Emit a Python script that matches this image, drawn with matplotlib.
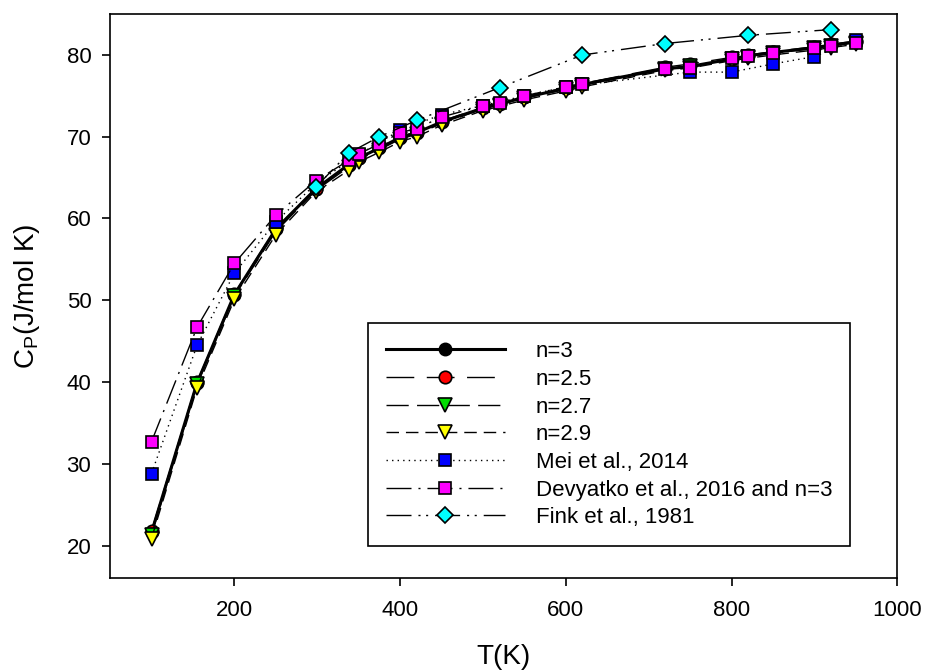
import matplotlib
matplotlib.use("Agg")
import matplotlib.pyplot as plt

plt.rcParams['font.family'] = ['Liberation Sans', 'DejaVu Sans']
plt.rcParams['mathtext.fontset'] = 'custom'
plt.rcParams['mathtext.rm'] = 'Liberation Sans'
plt.rcParams['mathtext.default'] = 'regular'

# temperatures (K)
t_model = [100, 155, 200, 250, 298, 338, 350, 375, 400, 420, 450, 500,
           520, 550, 600, 620, 720, 750, 800, 820, 850, 900, 920, 950]
t_mei = [100, 155, 200, 250, 300, 350, 400, 450, 500, 550, 600,
         750, 800, 850, 900, 950]
t_fink = [298, 338, 375, 420, 520, 620, 720, 820, 920]

# heat capacity (J/mol K)
cp_n3 = [21.6, 39.9, 50.7, 58.7, 63.6, 66.6, 67.4, 68.6, 69.9, 70.5, 71.8, 73.5,
         74.0, 74.8, 75.9, 76.4, 78.3, 78.6, 79.5, 79.9, 80.3, 80.9, 81.2, 81.6]
cp_n25 = [21.8, 40.0, 50.8, 58.8, 63.6, 66.6, 67.4, 68.7, 70.0, 70.6, 71.9, 73.6,
          74.1, 74.9, 76.0, 76.5, 78.5, 78.9, 79.7, 80.0, 80.4, 81.0, 81.3, 81.7]
cp_n27 = [21.3, 39.7, 50.5, 58.4, 63.4, 66.3, 67.2, 68.4, 69.7, 70.3, 71.6, 73.4,
          73.9, 74.7, 75.8, 76.3, 78.3, 78.6, 79.5, 79.8, 80.2, 80.8, 81.1, 81.5]
cp_n29 = [20.85, 39.3, 50.1, 58.0, 63.2, 65.9, 66.9, 68.1, 69.4, 70.0, 71.4, 73.2,
          73.7, 74.5, 75.6, 76.1, 78.1, 78.4, 79.3, 79.6, 80.0, 80.6, 80.9, 81.3]
cp_dev = [32.7, 46.7, 54.5, 60.4, 64.6, 67.1, 67.9, 69.1, 70.5, 71.0, 72.4, 73.8,
          74.1, 75.0, 76.1, 76.5, 78.3, 78.4, 79.6, 79.9, 80.2, 80.9, 81.1, 81.5]
cp_mei = [28.8, 44.5, 53.3, 59.6, 64.4, 67.8, 70.8, 72.7, 73.8, 75.0, 76.1,
          77.9, 77.9, 78.9, 79.8, 81.8]
cp_fink = [63.8, 68.0, 70.0, 72.0, 76.0, 80.0, 81.4, 82.4, 83.1]

fig = plt.figure(figsize=(9.25, 6.7), dpi=100)
ax = fig.add_axes([0.119, 0.137, 0.851, 0.842])

ax.plot(t_model, cp_n3, color='black', lw=2.2, ls='-', marker='o', ms=9,
        mfc='black', mec='black', label='n=3')
ax.plot(t_model, cp_n25, color='black', lw=1, dashes=(20, 9), marker='o', ms=9,
        mfc='red', mec='black', mew=1.2, label='n=2.5')
ax.plot(t_model, cp_n27, color='black', lw=1, dashes=(16, 6), marker='v', ms=10,
        mfc='#00dd00', mec='black', mew=1.2, label='n=2.7')
ax.plot(t_model, cp_n29, color='black', lw=1, dashes=(9, 5), marker='v', ms=10,
        mfc='yellow', mec='black', mew=1.2, label='n=2.9')
ax.plot(t_mei, cp_mei, color='black', lw=1, dashes=(1, 3), marker='s', ms=9,
        mfc='blue', mec='black', mew=1.2, label='Mei et al., 2014')
ax.plot(t_model, cp_dev, color='black', lw=1, dashes=(18, 5, 1.5, 5), marker='s', ms=9,
        mfc='magenta', mec='black', mew=1.2, label='Devyatko et al., 2016 and n=3')
ax.plot(t_fink, cp_fink, color='black', lw=1, dashes=(18, 5, 1.5, 4, 1.5, 5), marker='D',
        ms=8.5, mfc='cyan', mec='black', mew=1.2, label='Fink et al., 1981')

ax.set_xlim(50, 1000)
ax.set_ylim(16, 85)
ax.set_xticks([200, 400, 600, 800, 1000])
ax.set_yticks([20, 30, 40, 50, 60, 70, 80])
ax.tick_params(direction='out', length=5.5, width=1.2, labelsize=16, top=False, right=False)
ax.tick_params(axis='x', pad=10)
ax.tick_params(axis='y', pad=8)
for s in ax.spines.values():
    s.set_linewidth(1.2)

ax.set_xlabel('T(K)', fontsize=20, labelpad=17)
ax.set_ylabel('C$_P$(J/mol K)', fontsize=20, labelpad=18)

leg = ax.legend(loc='lower right', bbox_to_anchor=(0.940, 0.057), fontsize=16,
                handlelength=5.35, numpoints=1, labelspacing=0.30, fancybox=False,
                edgecolor='black', framealpha=1, borderpad=0.8, handletextpad=1.4,
                borderaxespad=0)
leg.get_frame().set_linewidth(1.2)

fig.savefig('out.png', dpi=100)
